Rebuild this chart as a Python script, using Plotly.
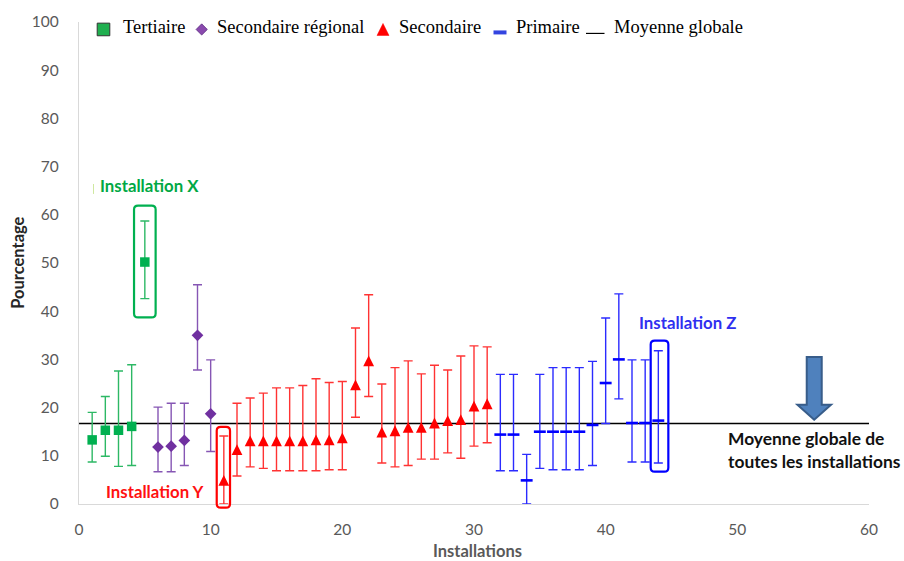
import plotly.graph_objects as go

# ---- data -------------------------------------------------------------
mean_global = 16.7

tert_x = [1, 2, 3, 4, 5]
tert_y = [13.3, 15.3, 15.3, 16.1, 50.2]
tert_hi = [19.0, 22.3, 27.6, 28.9, 58.7]
tert_lo = [8.7, 9.9, 7.8, 8.0, 42.6]

reg_x = [6, 7, 8, 9, 10]
reg_y = [11.8, 12.0, 13.2, 35.0, 18.7]
reg_hi = [20.1, 20.9, 20.9, 45.5, 29.9]
reg_lo = [6.7, 6.7, 8.0, 27.8, 10.9]

sec_x = list(range(11, 32))
sec_y = [4.9, 11.3, 13.1, 13.1, 13.1, 13.1, 13.1, 13.3, 13.3, 13.7, 24.7,
         29.7, 14.9, 15.2, 15.9, 15.9, 16.8, 17.3, 17.5, 20.3, 20.8]
sec_hi = [14.1, 20.9, 22.0, 23.0, 24.1, 24.1, 24.6, 26.0, 25.2, 25.4, 36.5,
          43.4, 24.9, 28.3, 29.7, 27.0, 28.8, 27.8, 30.7, 32.8, 32.6]
sec_lo = [0.0, 5.8, 7.7, 7.4, 6.9, 6.9, 6.9, 6.9, 7.1, 7.1, 18.0,
          22.3, 8.5, 7.7, 8.0, 9.3, 9.3, 10.6, 9.5, 12.0, 12.7]

prim_x = list(range(32, 45))
prim_y = [14.4, 14.4, 4.9, 15.0, 15.0, 15.0, 15.0, 16.4, 25.1, 30.0, 16.8, 16.8, 17.3]
prim_hi = [26.9, 26.9, 10.3, 26.9, 28.3, 28.3, 28.3, 29.6, 38.6, 43.6, 29.9, 29.9, 31.8]
prim_lo = [6.9, 6.9, 0.0, 7.4, 7.1, 7.1, 7.1, 8.0, 16.7, 21.8, 8.7, 8.7, 8.5]

x_ticks = [0, 10, 20, 30, 40, 50, 60]
y_ticks = [0, 10, 20, 30, 40, 50, 60, 70, 80, 90, 100]

legend_labels = ["Tertiaire", "Secondaire régional", "Secondaire", "Primaire", "Moyenne globale"]

# highlighted installations: (x0, x1, y0, y1) in axis units
box_x = (4.18, 5.82, 38.7, 61.9)
box_y = (10.46, 11.47, -0.76, 16.0)
box_z = (43.42, 44.76, 6.7, 33.9)

# ---- colours ----------------------------------------------------------
GREEN, GREEN_BAR = "#00B050", "#2DB865"
PURPLE, PURPLE_BAR = "#7030A0", "#8656B4"
RED, RED_BAR = "#FF0000", "#FF3333"
BLUE, BLUE_BAR = "#0000FF", "#2B2BFF"
GREY = "#595959"

FONT = "Lato"
SERIF = "Liberation Serif"

# plot-area geometry in pixels (used for paper conversions)
L, R, T, B = 79, 35, 19, 57
W, H = 904, 561
PW, PH = W - L - R, H - T - B
XMAX, YMAX = 60, 100


def err(y, hi, lo):
    return ([h - v for v, h in zip(y, hi)], [v - l for v, l in zip(y, lo)])


def series(x, y, hi, lo, name, marker, bar_color):
    plus, minus = err(y, hi, lo)
    return go.Scatter(
        x=x, y=y, mode="markers", name=name, showlegend=False,
        marker=marker,
        error_y=dict(type="data", symmetric=False, array=plus, arrayminus=minus,
                     color=bar_color, thickness=1.4, width=4.5),
        cliponaxis=True,
    )


fig = go.Figure()

fig.add_trace(go.Scatter(x=[0, XMAX], y=[mean_global, mean_global], mode="lines",
                         line=dict(color="#000000", width=1.3), showlegend=False,
                         hoverinfo="skip"))

fig.add_trace(series(tert_x, tert_y, tert_hi, tert_lo, legend_labels[0],
                     dict(symbol="square", size=9.5, color=GREEN), GREEN_BAR))
fig.add_trace(series(reg_x, reg_y, reg_hi, reg_lo, legend_labels[1],
                     dict(symbol="diamond", size=9, color=PURPLE), PURPLE_BAR))
fig.add_trace(series(sec_x, sec_y, sec_hi, sec_lo, legend_labels[2],
                     dict(symbol="arrow-down", angle=180, standoff=5.4, size=10.8,
                          color=RED, line=dict(width=0)), RED_BAR))
fig.add_trace(series(prim_x, prim_y, prim_hi, prim_lo, legend_labels[3],
                     dict(symbol="line-ew", size=8.5, color=BLUE,
                          line=dict(color=BLUE, width=2.6)), BLUE_BAR))


def px_x(px):
    return (px - L) / PW


def px_y(py):
    return (H - B - py) / PH


def rounded_box(bx, color, rpx=4):
    x0, x1 = bx[0] / XMAX, bx[1] / XMAX
    y0, y1 = bx[2] / YMAX, bx[3] / YMAX
    rx, ry = rpx / PW, rpx / PH
    path = (f"M{x0 + rx},{y1} L{x1 - rx},{y1} Q{x1},{y1} {x1},{y1 - ry} "
            f"L{x1},{y0 + ry} Q{x1},{y0} {x1 - rx},{y0} L{x0 + rx},{y0} "
            f"Q{x0},{y0} {x0},{y0 + ry} L{x0},{y1 - ry} Q{x0},{y1} {x0 + rx},{y1} Z")
    return dict(type="path", xref="paper", yref="paper", path=path,
                line=dict(color=color, width=2.2), fillcolor="rgba(0,0,0,0)")


shapes = [rounded_box(box_x, GREEN), rounded_box(box_y, RED), rounded_box(box_z, BLUE)]

# down arrow pointing at the global mean line
shapes.append(dict(
    type="path", xref="x", yref="y", xsizemode="pixel", ysizemode="pixel",
    xanchor=55.84, yanchor=17.5,
    path="M0,0 L-16.8,15 L-7.5,15 L-7.5,62.6 L7.5,62.6 L7.5,15 L16.8,15 Z",
    fillcolor="#4F81BD", line=dict(color="#385D8A", width=2),
))

# small text-cursor mark next to the X label
shapes.append(dict(type="line", xref="paper", yref="paper",
                   x0=px_x(93.5), x1=px_x(93.5), y0=px_y(182), y1=px_y(192),
                   line=dict(color="#CFE8A0", width=1)))

# ---- legend drawn along the top --------------------------------------
ly = px_y(26.5)
shapes += [
    dict(type="rect", xref="paper", yref="paper", xsizemode="pixel", ysizemode="pixel",
         xanchor=px_x(103.5), yanchor=ly, x0=-6.3, x1=6.3, y0=-6.3, y1=6.3,
         fillcolor="#1FAF4F", line=dict(color="#333333", width=1)),
    dict(type="path", xref="paper", yref="paper", xsizemode="pixel", ysizemode="pixel",
         xanchor=px_x(201.7), yanchor=ly,
         path="M0,5.6 L5.6,0 L0,-5.6 L-5.6,0 Z",
         fillcolor="#8A4AAE", line=dict(color="#5A2A80", width=0.8)),
    dict(type="path", xref="paper", yref="paper", xsizemode="pixel", ysizemode="pixel",
         xanchor=px_x(383), yanchor=ly,
         path="M0,6 L6,-6 L-6,-6 Z",
         fillcolor=RED, line=dict(color=RED, width=0.5)),
    dict(type="line", xref="paper", yref="paper",
         x0=px_x(493.5), x1=px_x(506.5), y0=px_y(29.5), y1=px_y(29.5),
         line=dict(color="#3344E0", width=4)),
    dict(type="line", xref="paper", yref="paper",
         x0=px_x(586), x1=px_x(604.5), y0=px_y(30.5), y1=px_y(30.5),
         line=dict(color="#000000", width=1.2)),
]

legend_x = [120.5, 215, 396.5, 514, 612.3]
annotations = []
for lab, lx in zip(legend_labels, legend_x):
    annotations.append(dict(text=lab, x=px_x(lx), y=px_y(24.5), xref="paper", yref="paper",
                            xanchor="left", yanchor="middle", showarrow=False,
                            font=dict(family=SERIF, size=18.5, color="#000000")))

# ---- text labels ------------------------------------------------------
annotations += [
    dict(text="<b>Installation X</b>", x=px_x(97.5), y=px_y(184), xref="paper", yref="paper",
         xanchor="left", yanchor="middle", showarrow=False,
         font=dict(family=FONT, size=16.8, color="#00A844")),
    dict(text="<b>Installation Y</b>", x=px_x(104), y=px_y(491.5), xref="paper", yref="paper",
         xanchor="left", yanchor="middle", showarrow=False,
         font=dict(family=FONT, size=16.8, color="#FF1010")),
    dict(text="<b>Installation Z</b>", x=px_x(636.5), y=px_y(321), xref="paper", yref="paper",
         xanchor="left", yanchor="middle", showarrow=False,
         font=dict(family=FONT, size=16.8, color="#2F2FF0")),
    dict(text="<b>Moyenne globale de</b>", x=px_x(725.5), y=px_y(438.5), xref="paper",
         yref="paper", xanchor="left", yanchor="middle", showarrow=False,
         font=dict(family=FONT, size=17.4, color="#111111")),
    dict(text="<b>toutes les installations</b>", x=px_x(725.5), y=px_y(461.7), xref="paper",
         yref="paper", xanchor="left", yanchor="middle", showarrow=False,
         font=dict(family=FONT, size=17.4, color="#111111")),
    dict(text="<b>Pourcentage</b>", x=px_x(17.3), y=px_y(261), xref="paper", yref="paper",
         xanchor="center", yanchor="middle", textangle=-90, showarrow=False,
         font=dict(family=FONT, size=16.5, color="#262626")),
    dict(text="<b>Installations</b>", x=px_x(477), y=px_y(551), xref="paper", yref="paper",
         xanchor="center", yanchor="middle", showarrow=False,
         font=dict(family=FONT, size=16.5, color=GREY)),
]

fig.update_layout(
    width=W, height=H,
    margin=dict(l=L, r=R, t=T, b=B, pad=0),
    paper_bgcolor="white", plot_bgcolor="white",
    showlegend=False,
    shapes=shapes, annotations=annotations,
    xaxis=dict(range=[0, XMAX], tickvals=x_ticks, ticktext=[str(v) for v in x_ticks],
               showgrid=False, zeroline=False, showline=True, linecolor="#D9D9D9",
               linewidth=1.2, ticks="", ticklabelstandoff=11,
               tickfont=dict(family=FONT, size=15.5, color=GREY)),
    yaxis=dict(range=[0, YMAX], tickvals=y_ticks, ticktext=[str(v) for v in y_ticks],
               showgrid=False, zeroline=False, showline=True, linecolor="#D9D9D9",
               linewidth=1.2, ticks="", ticklabelstandoff=16,
               tickfont=dict(family=FONT, size=15.5, color=GREY)),
)

fig.write_html("out.html")
